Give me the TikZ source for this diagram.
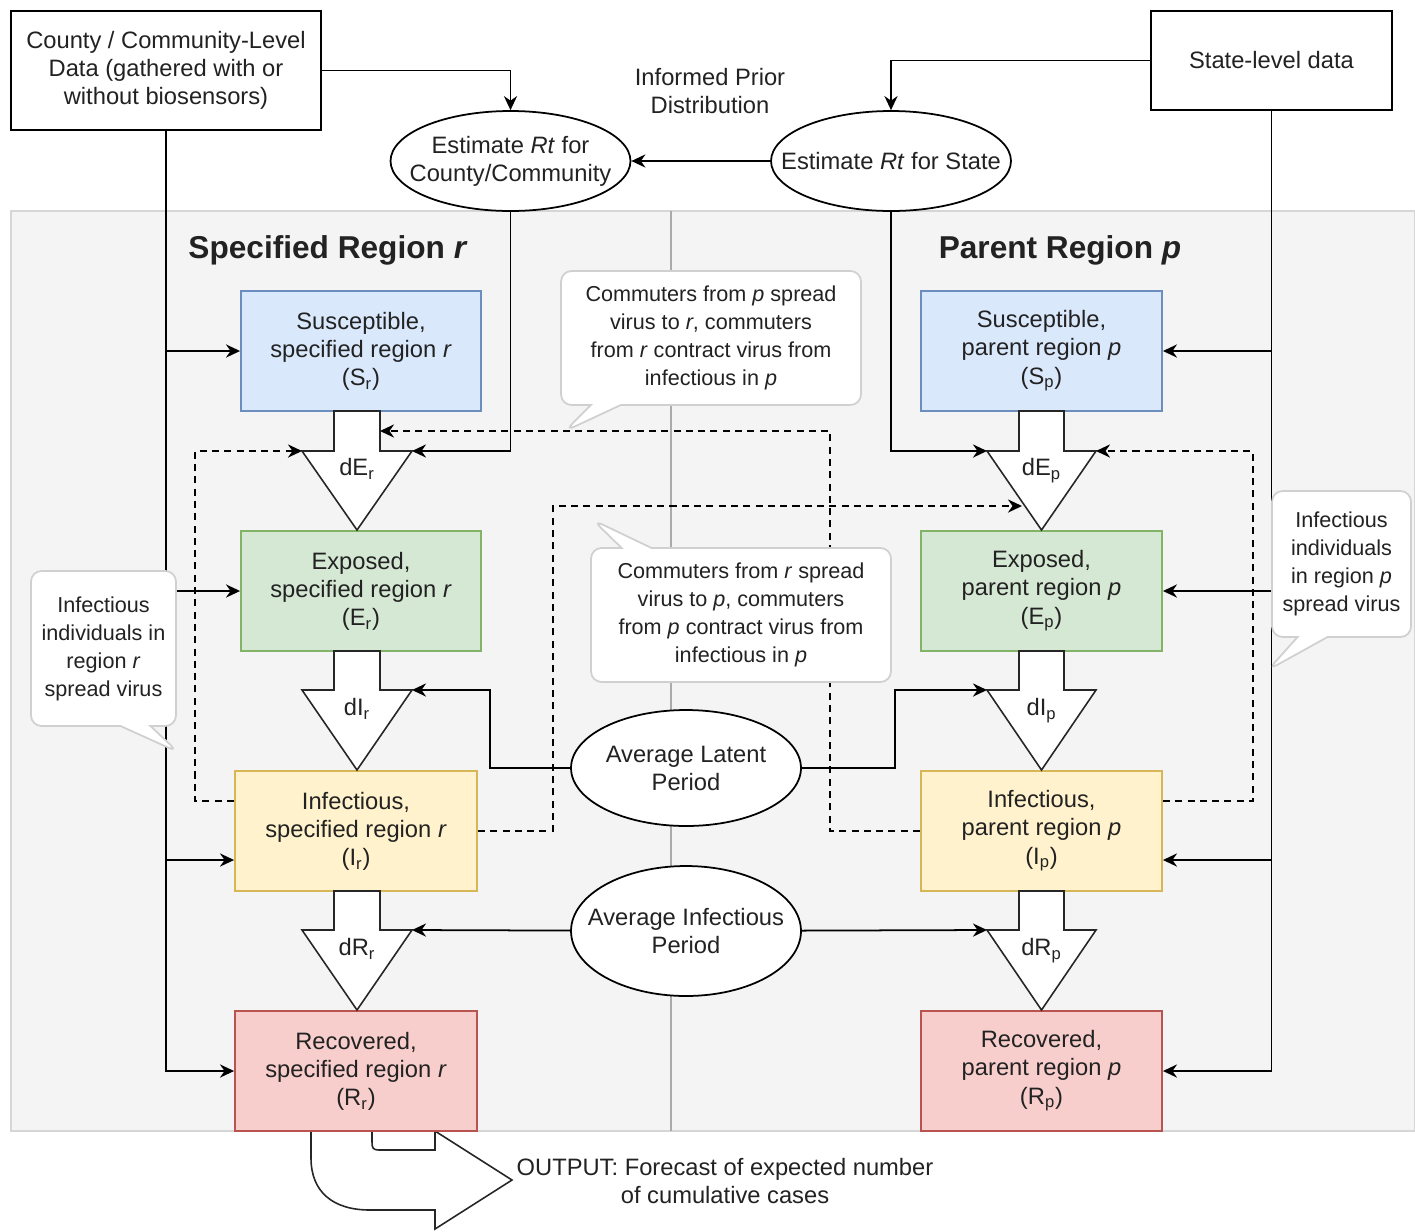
\documentclass[tikz,border=0pt]{standalone}
\usepackage{fontspec}
\setmainfont{Liberation Sans}
\usepackage{tikz}
\usetikzlibrary{arrows.meta,shapes.geometric,shapes.callouts,calc}
\definecolor{txt}{HTML}{222222}
\definecolor{panel}{HTML}{F4F4F4}
\definecolor{panelline}{HTML}{D6D6D6}
\definecolor{bubline}{HTML}{D0D0D0}
\definecolor{sfill}{HTML}{DAE8FC}
\definecolor{sline}{HTML}{6C8EBF}
\definecolor{efill}{HTML}{D5E8D4}
\definecolor{eline}{HTML}{82B366}
\definecolor{ifill}{HTML}{FFF2CC}
\definecolor{iline}{HTML}{D6B656}
\definecolor{rfill}{HTML}{F8CECC}
\definecolor{rline}{HTML}{B85450}

\begin{document}
\begin{tikzpicture}[x=0.02cm,y=-0.02cm,>={Stealth[length=8pt,width=7.5pt]}]
    \tikzstyle{every node}=[font=\fontsize{13.5}{16}\selectfont,align=center,text=txt];
    \tikzstyle{every path}=[line width=1pt];
    \tikzstyle{data}=[draw,fill=white,inner sep=0pt];
    \tikzstyle{comp}=[minimum width=4.8cm,minimum height=2.4cm,inner sep=0pt,line width=1.1pt];
    \tikzstyle{est}=[draw,ellipse,fill=white,inner xsep=-0.6cm,inner ysep=0pt];
    \tikzstyle{flow}=[draw=black!85,fill=white,line width=0.9pt];
    \tikzstyle{commute}=[->,dash pattern=on 4pt off 3pt];
    \tikzstyle{bubble}=[rectangle callout,draw=bubline,fill=white,rounded corners=6pt,
        callout pointer width=0.6cm,inner sep=0pt,font=\fontsize{12.3}{15.9}\selectfont];
    \useasboundingbox (0,0) rectangle (1415,1231);

    \fill[panel] (11,211) rectangle (1415,1131);
    \draw[panelline] (11,211) rectangle (1415,1131);
    \draw[panelline!80!black,line width=0.6pt] (671,211) -- (671,1131);

    \node at (166,70.5) (county) [data,minimum width=6.2cm,minimum height=2.38cm]
        {County / Community-Level\\Data (gathered with or\\without biosensors)};
    \node at (1271.5,60.5) (state) [data,minimum width=4.82cm,minimum height=1.98cm] {State-level data};
    \node at (710,91) (ipd) {Informed Prior\\Distribution};
    \node at (510.5,161) (ecc) [est,minimum width=4.8cm,minimum height=2cm] {Estimate \textit{Rt} for\\County/Community};
    \node at (891,161) (ecs) [est,minimum width=4.8cm,minimum height=2cm] {Estimate \textit{Rt} for State};

    \node at (328,250) (tr) [font=\fontsize{18}{21}\selectfont\bfseries] {Specified Region \textit{r}};
    \node at (1060,250) (tp) [font=\fontsize{18}{21}\selectfont\bfseries] {Parent Region \textit{p}};

    % output arrow
    \draw[flow] (311,1131) -- (311,1158) .. controls (311,1192) and (333,1210) .. (370,1210)
        -- (435,1210) -- (435,1229) -- (512,1180) -- (435,1131) -- (435,1150) -- (379,1150)
        .. controls (373,1150) and (372,1148) .. (372,1142) -- (372,1131);
    \node at (725,1181) (out) {OUTPUT: Forecast of expected number\\of cumulative cases};

    \node at (361,351)  (sr) [comp,draw=sline,fill=sfill] {Susceptible,\\specified region \textit{r}\\(S\textsubscript{r})};
    \node at (361,591)  (er) [comp,draw=eline,fill=efill] {Exposed,\\specified region \textit{r}\\(E\textsubscript{r})};
    \node at (356,831)  (ir) [comp,draw=iline,fill=ifill,minimum width=4.84cm] {Infectious,\\specified region \textit{r}\\(I\textsubscript{r})};
    \node at (356,1071) (rr) [comp,draw=rline,fill=rfill,minimum width=4.84cm] {Recovered,\\specified region \textit{r}\\(R\textsubscript{r})};
    \node at (1041.5,351)  (sp) [comp,draw=sline,fill=sfill,minimum width=4.82cm] {Susceptible,\\parent region \textit{p}\\(S\textsubscript{p})};
    \node at (1041.5,591)  (ep) [comp,draw=eline,fill=efill,minimum width=4.82cm] {Exposed,\\parent region \textit{p}\\(E\textsubscript{p})};
    \node at (1041.5,831)  (ip) [comp,draw=iline,fill=ifill,minimum width=4.82cm] {Infectious,\\parent region \textit{p}\\(I\textsubscript{p})};
    \node at (1041.5,1071) (rp) [comp,draw=rline,fill=rfill,minimum width=4.82cm] {Recovered,\\parent region \textit{p}\\(R\textsubscript{p})};

    % block arrows
    \draw[flow] (334,411) -- (334,451) -- (302,451) -- (357,530) -- (412,451) -- (380,451) -- (380,411) -- cycle;
    \draw[flow] (334,651) -- (334,690) -- (302,690) -- (357,770) -- (412,690) -- (380,690) -- (380,651) -- cycle;
    \draw[flow] (334,891) -- (334,930) -- (302,930) -- (357,1010) -- (412,930) -- (380,930) -- (380,891) -- cycle;
    \draw[flow] (1019,411) -- (1019,451) -- (987,451) -- (1041.5,530) -- (1096,451) -- (1064,451) -- (1064,411) -- cycle;
    \draw[flow] (1019,651) -- (1019,690) -- (987,690) -- (1041.5,770) -- (1096,690) -- (1064,690) -- (1064,651) -- cycle;
    \draw[flow] (1019,891) -- (1019,930) -- (987,930) -- (1041.5,1010) -- (1096,930) -- (1064,930) -- (1064,891) -- cycle;
    \node at (357,469)  (lder) {dE\textsubscript{r}};
    \node at (357,709)  (ldir) {dI\textsubscript{r}};
    \node at (357,949)  (ldrr) {dR\textsubscript{r}};
    \node at (1041.5,471) (ldep) {dE\textsubscript{p}};
    \node at (1041.5,711) (ldip) {dI\textsubscript{p}};
    \node at (1041.5,951) (ldrp) {dR\textsubscript{p}};

    \coordinate (dEr-l) at (302,451);
    \coordinate (dEr-r) at (412,451);
    \coordinate (dEr-s) at (380,431);
    \coordinate (dEp-l) at (987,451);
    \coordinate (dEp-r) at (1096,451);
    \coordinate (dEp-e) at (1022,506);
    \coordinate (dIr-r) at (412,690);
    \coordinate (dIp-l) at (987,690);
    \coordinate (dRr-r) at (412,930);
    \coordinate (dRp-l) at (987,930);

    \node at (686,768) (alp) [est,minimum width=4.6cm,minimum height=2.32cm] {Average Latent\\Period};
    \node at (686,931) (aip) [est,minimum width=4.6cm,minimum height=2.6cm] {Average Infectious\\Period};

    \draw[->] (county) -| (ecc);
    \draw[->] (state) -| (ecs);
    \draw[->] (ecs) to (ecc);
    \draw[->] (ecc) |- (dEr-r);
    \draw[->] (ecs) |- (dEp-l);

    \draw[->] (county) |- (sr);
    \draw[->] (county) |- (er);
    \draw[->] (county) |- ($(ir.west)+(0,29)$);
    \draw[->] (county) |- (rr);
    \draw[->] (state) |- (sp);
    \draw[->] (state) |- (ep);
    \draw[->] (state) |- ($(ip.east)+(0,29)$);
    \draw[->] (state) |- (rp);

    \draw[commute] ($(ir.west)+(0,-30)$) -- ++(-39,0) |- (dEr-l);
    \draw[commute] (ir.east) -- ++(75,0) |- (dEp-e);
    \draw[commute] (ip.west) -- ++(-90,0) |- (dEr-s);
    \draw[commute] ($(ip.east)+(0,-30)$) -- ++(90,0) |- (dEp-r);

    \draw[->] (alp.west) -- ++(-80,0) |- (dIr-r);
    \draw[->] (alp.east) -- ++(93,0) |- (dIp-l);
    \draw[->] (aip) to (dRr-r);
    \draw[->] (aip) to (dRp-l);

    \node at (711,338) (b1) [bubble,minimum width=6cm,minimum height=2.68cm,callout absolute pointer={(565,431)}]
        {Commuters from \textit{p} spread\\virus to \textit{r}, commuters\\from \textit{r} contract virus from\\infectious in \textit{p}};
    \node at (741,615) (b2) [bubble,minimum width=6cm,minimum height=2.68cm,callout absolute pointer={(593,520)}]
        {Commuters from \textit{r} spread\\virus to \textit{p}, commuters\\from \textit{p} contract virus from\\infectious in \textit{p}};
    \node at (103.5,648.5) (b3) [bubble,minimum width=2.9cm,minimum height=3.1cm,callout absolute pointer={(178,752)}]
        {Infectious\\individuals in\\region \textit{r}\\spread virus};
    \node at (1341.5,564) (b4) [bubble,minimum width=2.78cm,minimum height=2.92cm,callout absolute pointer={(1268,670)}]
        {Infectious\\individuals\\in region \textit{p}\\spread virus};
\end{tikzpicture}
\end{document}
